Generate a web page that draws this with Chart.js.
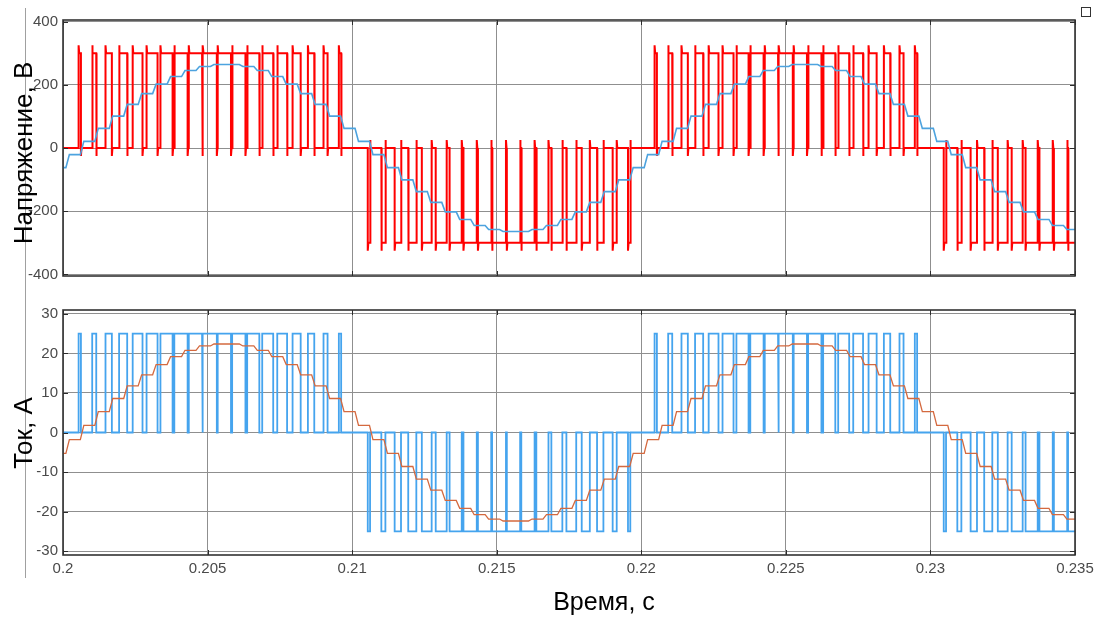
<!DOCTYPE html>
<html>
<head>
<meta charset="utf-8">
<script src="https://cdn.jsdelivr.net/npm/chart.js@4.4.1/dist/chart.umd.min.js"></script>
<style>
    body { margin: 0; background: #fff; font-family: 'Liberation Sans', Arial, sans-serif; }
    #page { position: relative; width: 1096px; height: 617px; overflow: hidden; background: #fff; }
    #volt-chart { position: absolute; left: 0; top: 0; }
    #curr-chart { position: absolute; left: 0; top: 290px; }
    .y-title, .x-title { position: absolute; white-space: nowrap; color: #000; line-height: 26px; }
    .y-title { font-size: 26px; transform: translate(-50%, -50%) rotate(-90deg); }
    .x-title { font-size: 25px; transform: translate(-50%, -50%); }
    #side-line { position: absolute; left: 25px; top: 8px; width: 1px; height: 570px; background: #a0a0a0; }
    #export-icon { position: absolute; left: 1081px; top: 7px; width: 8px; height: 8px; border: 1px solid #333; }
</style>
</head>
<body>
<div id="page">
    <div id="side-line"></div>
    <canvas id="volt-chart" width="1096" height="290"></canvas>
    <canvas id="curr-chart" width="1096" height="327"></canvas>
    <div class="y-title" style="left:23px; top:153px;">Напряжение, В</div>
    <div class="y-title" style="left:23px; top:433px;">Ток, А</div>
    <div class="x-title" style="left:604px; top:601px;">Время, с</div>
    <div id="export-icon"></div>
</div>
<script>
/*** Данные ***/
const timeTicks = [0.2, 0.205, 0.21, 0.215, 0.22, 0.225, 0.23, 0.235];
const voltTicks = [-400, -200, 0, 200, 400];
const currTicks = [-30, -20, -10, 0, 10, 20, 30];

// моменты включения / выключения ключей, положительные полуволны
const posOn = [
    0.20054, 0.20101, 0.20147, 0.20194, 0.20241, 0.20289, 0.20337, 0.20385, 0.20435, 0.20484,
    0.20535, 0.20585, 0.20637, 0.20689, 0.20741, 0.20794, 0.20847, 0.20901, 0.20954,
    0.22046, 0.22093, 0.22139, 0.22186, 0.22233, 0.22281, 0.22329, 0.22377, 0.22427, 0.22476,
    0.22527, 0.22577, 0.22629, 0.22681, 0.22733, 0.22786, 0.22839, 0.22893, 0.22946
];
const posOff = [
    0.20062, 0.20115, 0.20169, 0.20222, 0.20275, 0.20327, 0.20379, 0.20431, 0.20481, 0.20532,
    0.20581, 0.20631, 0.20679, 0.20727, 0.20775, 0.20822, 0.20869, 0.20915, 0.20962,
    0.22054, 0.22107, 0.22161, 0.22214, 0.22267, 0.22319, 0.22371, 0.22423, 0.22473, 0.22524,
    0.22573, 0.22623, 0.22671, 0.22719, 0.22767, 0.22814, 0.22861, 0.22907, 0.22954
];
// отрицательные полуволны
const negOn = [
    0.21054, 0.21101, 0.21147, 0.21194, 0.21241, 0.21289, 0.21337, 0.21385, 0.21435, 0.21484,
    0.21535, 0.21585, 0.21637, 0.21689, 0.21741, 0.21794, 0.21847, 0.21901, 0.21954,
    0.23046, 0.23093, 0.23139, 0.23186, 0.23233, 0.23281, 0.23329, 0.23377, 0.23427, 0.23476
];
const negOff = [
    0.21062, 0.21115, 0.21169, 0.21222, 0.21275, 0.21327, 0.21379, 0.21431, 0.21481, 0.21532,
    0.21581, 0.21631, 0.21679, 0.21727, 0.21775, 0.21822, 0.21869, 0.21915, 0.21962,
    0.23054, 0.23107, 0.23161, 0.23214, 0.23267, 0.23319, 0.23371, 0.23423, 0.23473, 0.23524
];

// уровни импульсов
const voltLevel = 300, voltSpike = 325, voltDip = 25;
const currLevel = 25;

// ступенчатые средние значения (первая гармоника)
const stairTimes = [
    0.2,
    0.2001, 0.2006, 0.2011, 0.2016, 0.2021, 0.2026, 0.2031, 0.2036, 0.2041, 0.2046,
    0.2051, 0.2056, 0.2061, 0.2066, 0.2071, 0.2076, 0.2081, 0.2086, 0.2091, 0.2096,
    0.2101, 0.2106, 0.2111, 0.2116, 0.2121, 0.2126, 0.2131, 0.2136, 0.2141, 0.2146,
    0.2151, 0.2156, 0.2161, 0.2166, 0.2171, 0.2176, 0.2181, 0.2186, 0.2191, 0.2196,
    0.2201, 0.2206, 0.2211, 0.2216, 0.2221, 0.2226, 0.2231, 0.2236, 0.2241, 0.2246,
    0.2251, 0.2256, 0.2261, 0.2266, 0.2271, 0.2276, 0.2281, 0.2286, 0.2291, 0.2296,
    0.2301, 0.2306, 0.2311, 0.2316, 0.2321, 0.2326, 0.2331, 0.2336, 0.2341, 0.2346
];
const voltMean = [
    -62,
    -21, 21, 62, 101, 138, 172, 202, 226, 245, 258,
    264, 264, 258, 245, 226, 202, 172, 138, 101, 62,
    21, -21, -62, -101, -138, -172, -202, -226, -245, -258,
    -264, -264, -258, -245, -226, -202, -172, -138, -101, -62,
    -21, 21, 62, 101, 138, 172, 202, 226, 245, 258,
    264, 264, 258, 245, 226, 202, 172, 138, 101, 62,
    21, -21, -62, -101, -138, -172, -202, -226, -245, -258
];
const currMean = [
    -5.3,
    -1.8, 1.8, 5.3, 8.6, 11.8, 14.6, 17.2, 19.2, 20.8, 21.9,
    22.4, 22.4, 21.9, 20.8, 19.2, 17.2, 14.6, 11.8, 8.6, 5.3,
    1.8, -1.8, -5.3, -8.6, -11.8, -14.6, -17.2, -19.2, -20.8, -21.9,
    -22.4, -22.4, -21.9, -20.8, -19.2, -17.2, -14.6, -11.8, -8.6, -5.3,
    -1.8, 1.8, 5.3, 8.6, 11.8, 14.6, 17.2, 19.2, 20.8, 21.9,
    22.4, 22.4, 21.9, 20.8, 19.2, 17.2, 14.6, 11.8, 8.6, 5.3,
    1.8, -1.8, -5.3, -8.6, -11.8, -14.6, -17.2, -19.2, -20.8, -21.9
];

const tMin = timeTicks[0], tMax = timeTicks[timeTicks.length - 1];

/*** Построение точек ***/
function allPulses() {
    return posOn.map((t, i) => ({ on: t, off: posOff[i], s: 1 }))
        .concat(negOn.map((t, i) => ({ on: t, off: negOff[i], s: -1 })))
        .sort((a, b) => a.on - b.on);
}

// напряжение: выброс на фронте, провал на срезе
function voltPoints() {
    const settle = 0.00002;
    const pts = [{ x: tMin, y: 0 }];
    allPulses().forEach(p => {
        pts.push({ x: p.on, y: 0 });
        pts.push({ x: p.on, y: p.s * voltSpike });
        pts.push({ x: p.on + settle, y: p.s * voltLevel });
        pts.push({ x: p.off, y: p.s * voltLevel });
        pts.push({ x: p.off, y: -p.s * voltDip });
        pts.push({ x: p.off + settle, y: 0 });
    });
    pts.push({ x: tMax, y: 0 });
    return pts;
}

function currPoints() {
    const pts = [{ x: tMin, y: 0 }];
    allPulses().forEach(p => {
        pts.push({ x: p.on, y: 0 });
        pts.push({ x: p.on, y: p.s * currLevel });
        pts.push({ x: p.off, y: p.s * currLevel });
        pts.push({ x: p.off, y: 0 });
    });
    pts.push({ x: tMax, y: 0 });
    return pts;
}

// ступеньки с коротким фронтом (сглаживание фильтром)
function stairPoints(values) {
    const ramp = 0.00012;
    const pts = [{ x: stairTimes[0], y: values[0] }];
    for (let i = 1; i < stairTimes.length; i++) {
        pts.push({ x: stairTimes[i], y: values[i - 1] });
        pts.push({ x: stairTimes[i] + ramp, y: values[i] });
    }
    pts.push({ x: tMax, y: values[values.length - 1] });
    return pts;
}

/*** Рамка и внутренние засечки ***/
const framePlugin = {
    id: 'frame',
    afterDraw(chart) {
        const { ctx, chartArea: a, scales } = chart;
        ctx.save();
        ctx.strokeStyle = '#2b2b2b';
        ctx.lineWidth = 1;
        scales.y.ticks.forEach(t => {
            const y = Math.round(scales.y.getPixelForValue(t.value)) + 0.5;
            ctx.beginPath();
            ctx.moveTo(a.left, y); ctx.lineTo(a.left + 5, y);
            ctx.moveTo(a.right, y); ctx.lineTo(a.right - 5, y);
            ctx.stroke();
        });
        scales.x.ticks.forEach(t => {
            const x = Math.round(scales.x.getPixelForValue(t.value)) + 0.5;
            ctx.beginPath();
            ctx.moveTo(x, a.top); ctx.lineTo(x, a.top + 5);
            ctx.moveTo(x, a.bottom); ctx.lineTo(x, a.bottom - 5);
            ctx.stroke();
        });
        ctx.lineWidth = 1.6;
        ctx.strokeStyle = '#333';
        ctx.strokeRect(a.left, a.top, a.right - a.left, a.bottom - a.top);
        ctx.restore();
    }
};

function buildOptions(yTicks, yMin, yMax, showTimeLabels, padBottom) {
    return {
        responsive: false,
        animation: false,
        events: [],
        layout: { autoPadding: false, padding: { top: 20, right: 21, bottom: padBottom, left: 0 } },
        plugins: { legend: { display: false }, tooltip: { enabled: false } },
        elements: { point: { radius: 0 }, line: { tension: 0 } },
        scales: {
            x: {
                type: 'linear',
                min: tMin,
                max: tMax,
                afterBuildTicks: s => { s.ticks = timeTicks.map(v => ({ value: v })); },
                afterFit: s => {
                    s.height = showTimeLabels ? 62 : 0;
                    s.paddingLeft = 0;
                    s.paddingRight = 0;
                },
                grid: { color: '#8f8f8f', lineWidth: 1, drawTicks: false },
                border: { display: false },
                ticks: {
                    display: showTimeLabels,
                    padding: 5,
                    maxRotation: 0,
                    color: '#4a4a4a',
                    font: { family: "'Liberation Sans', Arial, sans-serif", size: 15 },
                    callback: v => String(v)
                }
            },
            y: {
                min: yMin,
                max: yMax,
                afterBuildTicks: s => { s.ticks = yTicks.map(v => ({ value: v })); },
                afterFit: s => { s.width = 63; },
                grid: { color: '#8f8f8f', lineWidth: 1, drawTicks: false },
                border: { display: false },
                ticks: {
                    padding: 5,
                    color: '#4a4a4a',
                    font: { family: "'Liberation Sans', Arial, sans-serif", size: 15 },
                    callback: v => String(v)
                }
            }
        }
    };
}

/*** Напряжение ***/
new Chart(document.getElementById('volt-chart').getContext('2d'), {
    type: 'line',
    data: {
        datasets: [
            {
                label: 'Среднее напряжение',
                data: stairPoints(voltMean),
                borderColor: '#4da3df',
                borderWidth: 1.6,
                order: 0
            },
            {
                label: 'Напряжение',
                data: voltPoints(),
                borderColor: '#ff0000',
                borderWidth: 2,
                order: 1
            }
        ]
    },
    options: buildOptions(voltTicks, -405, 405, false, 14),
    plugins: [framePlugin]
});

/*** Ток ***/
new Chart(document.getElementById('curr-chart').getContext('2d'), {
    type: 'line',
    data: {
        datasets: [
            {
                label: 'Средний ток',
                data: stairPoints(currMean),
                borderColor: '#d4693f',
                borderWidth: 1.3,
                order: 0
            },
            {
                label: 'Ток',
                data: currPoints(),
                borderColor: '#45a4ee',
                borderWidth: 1.8,
                order: 1
            }
        ]
    },
    options: buildOptions(currTicks, -31, 31, true, 0),
    plugins: [framePlugin]
});
</script>
</body>
</html>
